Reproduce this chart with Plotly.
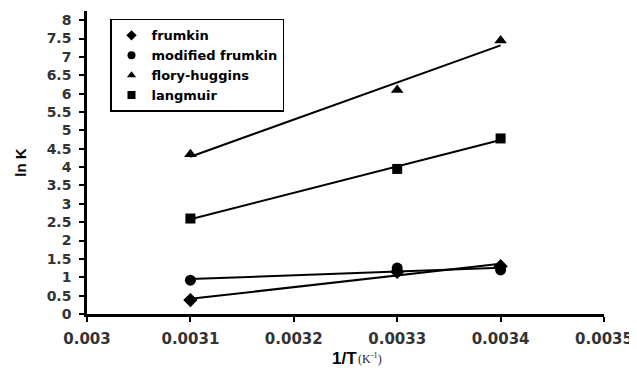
import numpy as np
import plotly.graph_objects as go

inv_T = [0.0031, 0.0033, 0.0034]
frumkin = [0.38, 1.15, 1.3]
modified_frumkin = [0.92, 1.25, 1.2]
flory_huggins = [4.35, 6.1, 7.45]
langmuir = [2.6, 3.95, 4.78]

series = [
    ("frumkin", frumkin, "diamond", 11),
    ("modified frumkin", modified_frumkin, "circle", 11),
    ("flory-huggins", flory_huggins, "triangle-up", 11),
    ("langmuir", langmuir, "square", 10),
]

x_ticks = [0.003, 0.0031, 0.0032, 0.0033, 0.0034, 0.0035]
x_ticklabels = ["0.003", "0.0031", "0.0032", "0.0033", "0.0034", "0.0035"]
y_ticks = [i * 0.5 for i in range(17)]
y_ticklabels = ["0", "0.5", "1", "1.5", "2", "2.5", "3", "3.5", "4", "4.5", "5", "5.5", "6", "6.5", "7", "7.5", "8"]

fig = go.Figure()
xs = np.array(inv_T)
for name, ys, sym, sz in series:
    slope, icpt = np.polyfit(xs, np.array(ys), 1)
    xl = [xs.min(), xs.max()]
    fig.add_trace(go.Scatter(x=xl, y=[slope * v + icpt for v in xl], mode="lines",
                             line=dict(color="black", width=2), showlegend=False, hoverinfo="skip"))
for name, ys, sym, sz in series:
    fig.add_trace(go.Scatter(x=inv_T, y=ys, mode="markers", name=name, showlegend=False,
                             marker=dict(symbol=sym, size=sz, color="black")))
    # legend entry with the smaller legend symbol
    fig.add_trace(go.Scatter(x=[None], y=[None], mode="markers", name=name,
                             marker=dict(symbol=sym, size=8, color="black")))

font = "Liberation Sans, Arial, sans-serif"
fig.update_layout(
    width=637, height=370,
    margin=dict(l=79, r=41, t=3, b=64),
    paper_bgcolor="white", plot_bgcolor="white",
    font=dict(family=font, size=12, color="#222"),
    legend=dict(x=0.0445, y=0.974, xanchor="left", yanchor="top",
                bordercolor="black", borderwidth=1.5, bgcolor="white",
                font=dict(family="DejaVu Sans, sans-serif", size=13, color="black", weight="bold"),
                itemwidth=30, tracegroupgap=0),
    xaxis=dict(range=[0.003, 0.0035], tickvals=x_ticks, ticktext=x_ticklabels, automargin=False,
               showgrid=False, zeroline=False, showline=True, linecolor="black", linewidth=2.5,
               ticks="outside", ticklen=5, tickwidth=1.5, tickcolor="black",
               ticklabelstandoff=4,
               tickfont=dict(family="DejaVu Sans, sans-serif", size=15, color="#333", weight="bold")),
    yaxis=dict(range=[0, 8.25], tickvals=y_ticks, ticktext=y_ticklabels, automargin=False,
               showgrid=False, zeroline=False, showline=True, linecolor="black", linewidth=2.5,
               ticks="outside", ticklen=5, tickwidth=1.5, tickcolor="black",
               ticklabelstandoff=5,
               tickfont=dict(family="DejaVu Sans, sans-serif", size=14, color="#333", weight="bold"),
               title=dict(text="<b>ln K</b>", font=dict(family=font, size=15, color="black"), standoff=17)),
    annotations=[
        dict(text="<b>1/T</b>", xref="paper", yref="paper", x=0.47, y=-0.148,
             xanchor="left", yanchor="middle", showarrow=False,
             font=dict(family=font, size=17, color="black")),
        dict(text="(K<sup>-1</sup>)", xref="paper", yref="paper", x=0.52, y=-0.146,
             xanchor="left", yanchor="middle", showarrow=False,
             font=dict(family="Liberation Serif, serif", size=12, color="#222")),
    ],
)
fig.write_html("out.html")
